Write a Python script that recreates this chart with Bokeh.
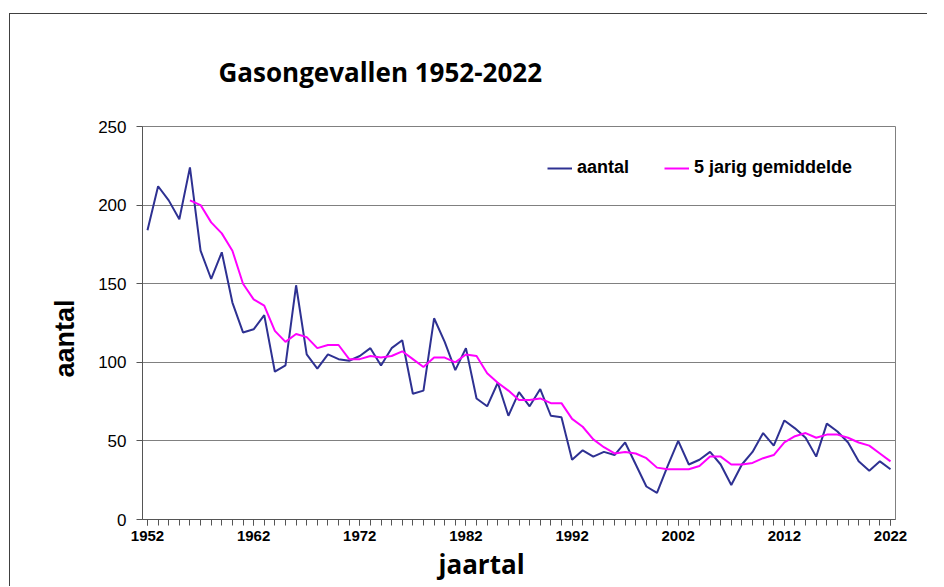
from bokeh.plotting import figure
from bokeh.models import (FixedTicker, Legend, LegendItem, ColumnDataSource, Range1d, Title)
from bokeh.embed import file_html
from bokeh.resources import INLINE

# ---- data ----
years = list(range(1952, 2023))
aantal = [184, 212, 203, 191, 224, 171, 153, 170, 138, 119,
          121, 130, 94, 98, 149, 105, 96, 105, 102, 101,
          104, 109, 98, 109, 114, 80, 82, 128, 113, 95,
          109, 77, 72, 87, 66, 81, 72, 83, 66, 65,
          38, 44, 40, 43, 41, 49, 35, 21, 17, 34,
          50, 35, 38, 43, 35, 22, 35, 43, 55, 47,
          63, 58, 52, 40, 61, 56, 49, 37, 31, 37,
          32]
avg_years = list(range(1956, 2023))
gemiddelde = [203, 200, 189, 182, 171, 150, 140, 136, 120, 113,
              118, 116, 109, 111, 111, 102, 102, 104, 103, 104,
              107, 102, 97, 103, 103, 100, 105, 104, 93, 87,
              82, 76, 76, 77, 74, 74, 64, 59, 51, 46,
              42, 43, 42, 39, 33, 32, 32, 32, 34, 40,
              40, 35, 35, 36, 39, 41, 49, 53, 55, 52,
              54, 54, 52, 49, 47, 42, 37]
x_major_ticks = [1952, 1962, 1972, 1982, 1992, 2002, 2012, 2022]
y_ticks = [0, 50, 100, 150, 200, 250]
title_text = "Gasongevallen 1952-2022"
x_title = "jaartal"
y_title = "aantal"
legend_labels = ["aantal", "5 jarig gemiddelde"]

# ---- layout ----
W, H = 918, 573
FL, FT, FW, FH = 132, 112, 753, 393

p = figure(width=W, height=H, output_backend="svg", toolbar_location=None,
           x_range=Range1d(1951.53, 2022.47), y_range=Range1d(0, 250),
           min_border_left=FL, min_border_top=FT,
           min_border_right=W - FL - FW, min_border_bottom=H - FT - FH)
p.margin = (13, 0, 0, 9)
p.styles = {"border-left": "1px solid #404040", "border-top": "1px solid #404040"}
p.background_fill_color = "white"
p.border_fill_color = "white"
p.outline_line_color = "#808080"
p.outline_line_width = 1

src1 = ColumnDataSource(dict(x=years, y=aantal))
src2 = ColumnDataSource(dict(x=avg_years, y=gemiddelde))
r1 = p.line("x", "y", source=src1, line_color="#2E3192", line_width=2)
r2 = p.line("x", "y", source=src2, line_color="#FF00FF", line_width=2)

# axes
xa = p.xaxis[0]
xa.ticker = FixedTicker(ticks=x_major_ticks, minor_ticks=years)
xa.major_tick_out = 6
xa.major_tick_in = 0
xa.minor_tick_out = 6
xa.minor_tick_in = 0
xa.axis_line_color = "#555555"
xa.major_tick_line_color = "#555555"
xa.minor_tick_line_color = "#555555"
xa.major_label_text_font = "Liberation Sans"
xa.major_label_text_font_style = "bold"
xa.major_label_text_font_size = "15px"
xa.major_label_text_color = "black"
xa.major_label_standoff = 5

ya = p.yaxis[0]
ya.ticker = FixedTicker(ticks=y_ticks)
ya.major_tick_out = 6
ya.major_tick_in = 0
ya.minor_tick_line_color = None
ya.axis_line_color = "#555555"
ya.major_tick_line_color = "#555555"
ya.major_label_text_font = "Liberation Sans"
ya.major_label_text_font_size = "17px"
ya.major_label_text_color = "black"
ya.major_label_standoff = 10

p.xgrid.grid_line_color = None
p.ygrid.ticker = FixedTicker(ticks=y_ticks)
p.ygrid.grid_line_color = "#808080"
p.ygrid.grid_line_width = 1

# legend
legend = Legend(items=[LegendItem(label=legend_labels[0], renderers=[r1]),
                       LegendItem(label=legend_labels[1], renderers=[r2])],
                orientation="horizontal", location=(405, 341),
                border_line_color=None, background_fill_alpha=0,
                padding=0, margin=0, spacing=35, glyph_width=25, glyph_height=20,
                label_standoff=5, label_height=20,
                label_text_font="Liberation Sans", label_text_font_style="bold",
                label_text_font_size="18px", label_text_color="black")
p.add_layout(legend)

# main title
p.title.text = title_text
p.title.align = "left"
p.title.offset = 76
p.title.standoff = 74
p.title.text_font = "Open Sans"
p.title.text_font_style = "bold"
p.title.text_font_size = "26px"
p.title.text_color = "black"

# axis titles
p.add_layout(Title(text=x_title, align="left", offset=296, vertical_align="top", standoff=4,
                   text_font="Open Sans", text_font_style="bold", text_font_size="26px",
                   text_color="black"), "below")
p.add_layout(Title(text=y_title, align="left", offset=142, standoff=31,
                   text_font="Liberation Sans", text_font_style="bold", text_font_size="27px",
                   text_color="black"), "left")

open("out.html", "w").write(file_html(p, INLINE))
